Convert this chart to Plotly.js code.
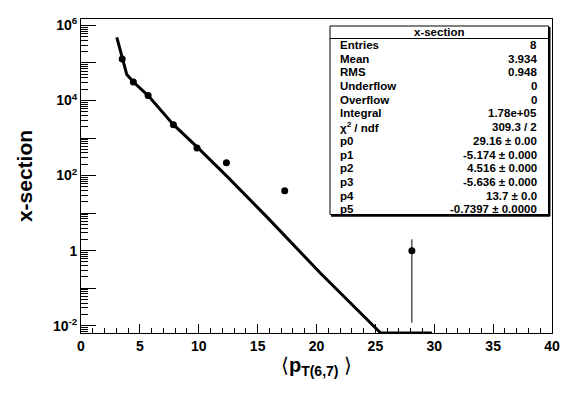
<!DOCTYPE html>
<html>
<head>
<meta charset="utf-8">
<script src="https://cdn.plot.ly/plotly-3.0.1.min.js"></script>
<style>html,body{margin:0;padding:0;background:#fff;}#chart{width:587px;height:396px;}</style>
</head>
<body>
<div id="chart"></div>
<script>
// ---- data ----
const pointX = [3.5, 4.45, 5.7, 7.85, 9.85, 12.35, 17.3, 28.1];
const pointY = [1.28e5, 3.1e4, 1.35e4, 2.26e3, 545, 220, 39.5, 1.0];
const errPlus  = [0, 0, 0, 0, 0, 0, 0, 1.0];
const errMinus = [0, 0, 0, 0, 0, 0, 0, 0.988];

const fitX = [3.04, 3.51, 3.89, 4.45, 5.70, 7.83, 9.85, 12.40, 15.80, 20.34, 25.45, 29.8];
const fitY = [4.8e5, 1.3e5, 4.9e4, 3.1e4, 1.35e4, 2.3e3, 580, 95, 7.8, 0.25, 0.0064, 0.0064];

const yTickVals = [1e-2, 1e-1, 1, 1e1, 1e2, 1e3, 1e4, 1e5, 1e6];
const yTickText = ['10<sup>-2</sup>', ' ', '1', ' ', '10<sup>2</sup>', ' ', '10<sup>4</sup>', ' ', '10<sup>6</sup>'];

const statLabels = ['Entries', 'Mean', 'RMS', 'Underflow', 'Overflow', 'Integral', 'χ<sup>2</sup> / ndf',
                    'p0', 'p1', 'p2', 'p3', 'p4', 'p5'];
const statValues = ['8', '3.934', '0.948', '0', '0', '1.78e+05', '309.3 / 2',
                    '29.16 ± 0.00', '-5.174 ± 0.000', '4.516 ± 0.000', '-5.636 ± 0.000', '13.7 ± 0.0', '-0.7397 ± 0.0000'];
const statTitle = 'x-section';

// ---- layout geometry (pixels) ----
const W = 587, H = 396;
const M = {l: 81, r: 35, t: 19, b: 63};
const PW = W - M.l - M.r, PH = H - M.t - M.b;
const px = x => (x - M.l) / PW;
const py = y => (H - M.b - y) / PH;

// minor ticks for log axis
const yMinor = [];
for (let d = -3; d <= 6; d++) for (let m = 2; m <= 9; m++) yMinor.push(m * Math.pow(10, d));

const FONT = 'Liberation Sans, Arial, Helvetica, sans-serif';

const traces = [
  {
    x: fitX, y: fitY, type: 'scatter', mode: 'lines',
    line: {color: '#000', width: 3}, hoverinfo: 'skip', showlegend: false
  },
  {
    x: pointX, y: pointY, type: 'scatter', mode: 'markers',
    marker: {color: '#000', size: 7, symbol: 'circle'},
    error_y: {type: 'data', array: errPlus, arrayminus: errMinus, symmetric: false,
              color: '#000', thickness: 1, width: 0},
    showlegend: false
  }
];

// stats box
const boxL = 330, boxR = 548.5, boxT = 26, boxB = 214.5;
const rowY0 = 45, rowDY = 13.69;
const shapes = [
  {type: 'rect', xref: 'paper', yref: 'paper', x0: px(boxL), x1: px(boxR), y0: py(boxB), y1: py(boxT),
   line: {color: '#000', width: 1}, fillcolor: '#fff', layer: 'above'},
  {type: 'line', xref: 'paper', yref: 'paper', x0: px(boxL), x1: px(boxR), y0: py(38.5), y1: py(38.5),
   line: {color: '#000', width: 1}},
  {type: 'line', xref: 'paper', yref: 'paper', x0: px(boxL + 1), x1: px(boxR + 1.5), y0: py(boxB + 1.2), y1: py(boxB + 1.2),
   line: {color: '#000', width: 2}},
  {type: 'line', xref: 'paper', yref: 'paper', x0: px(boxR + 1), x1: px(boxR + 1), y0: py(boxT + 1), y1: py(boxB + 1.5),
   line: {color: '#000', width: 2}}
];
const statFont = {family: FONT, size: 11.5, color: '#000'};
const annotations = [
  {xref: 'paper', yref: 'paper', x: px((boxL + boxR) / 2), y: py(32), xanchor: 'center', yanchor: 'middle',
   text: '<b>' + statTitle + '</b>', showarrow: false, font: statFont}
];
statLabels.forEach((s, i) => {
  annotations.push({xref: 'paper', yref: 'paper', x: px(338), y: py(rowY0 + i * rowDY), xanchor: 'left', yanchor: 'middle',
    text: '<b>' + s + '</b>', showarrow: false, font: statFont});
  annotations.push({xref: 'paper', yref: 'paper', x: px(539), y: py(rowY0 + i * rowDY), xanchor: 'right', yanchor: 'middle',
    text: '<b>' + statValues[i] + '</b>', showarrow: false, font: statFont});
});

const layout = {
  width: W, height: H,
  margin: M,
  paper_bgcolor: '#fff', plot_bgcolor: '#fff',
  font: {family: FONT, color: '#000'},
  showlegend: false,
  xaxis: {
    range: [0, 40], tick0: 0, dtick: 5, ticks: 'inside', ticklen: 9, tickwidth: 1, tickcolor: '#000',
    minor: {dtick: 1, ticks: 'inside', ticklen: 5, tickwidth: 1, tickcolor: '#000'},
    showline: true, mirror: true, linecolor: '#000', linewidth: 1,
    showgrid: false, zeroline: false,
    tickfont: {family: FONT, size: 14, color: '#000', weight: 'bold'},
    title: {text: '⟨<b>p</b><sub><b>T(6,7)</b></sub> ⟩', font: {family: FONT, size: 20, color: '#000'}, standoff: 5},
    automargin: false
  },
  yaxis: {
    type: 'log', range: [-2.194, 6.17],
    tickmode: 'array', tickvals: yTickVals, ticktext: yTickText,
    ticks: 'inside', ticklen: 15, tickwidth: 1, tickcolor: '#000',
    minor: {tickmode: 'array', tickvals: yMinor, ticks: 'inside', ticklen: 7, tickwidth: 1, tickcolor: '#000'},
    showline: true, mirror: true, linecolor: '#000', linewidth: 1,
    showgrid: false, zeroline: false,
    tickfont: {family: FONT, size: 14, color: '#000', weight: 'bold'},
    title: {text: '<b>x-section</b>', font: {family: FONT, size: 21, color: '#000'}, standoff: 14},
    automargin: false
  },
  shapes: shapes,
  annotations: annotations
};

Plotly.newPlot('chart', traces, layout, {staticPlot: true, displayModeBar: false});
</script>
</body>
</html>
